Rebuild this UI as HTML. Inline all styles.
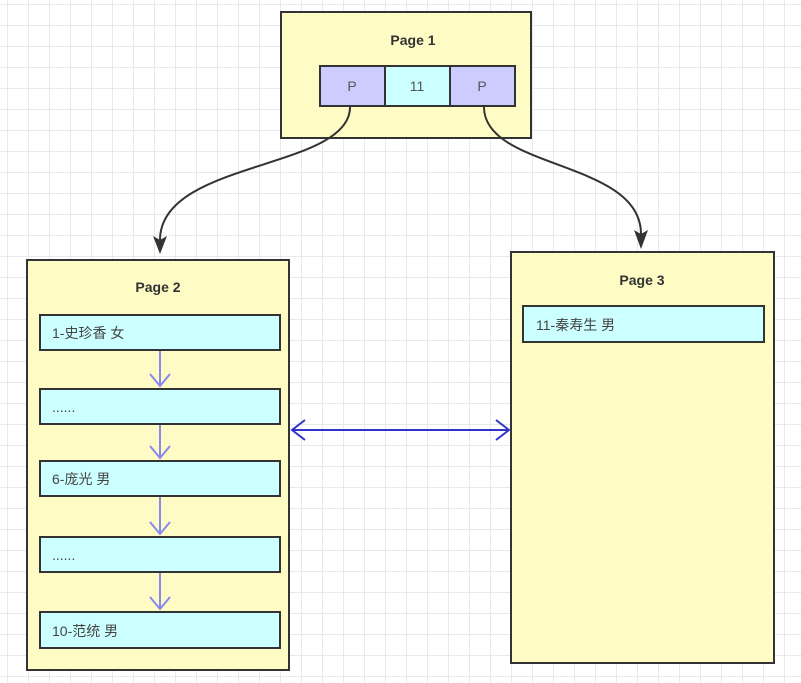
<!DOCTYPE html>
<html><head><meta charset="utf-8"><style>
html,body{margin:0;padding:0;background:#fff}
svg{display:block}
text{font-family:"Liberation Sans","Noto Sans CJK SC",sans-serif}
</style></head><body>
<svg width="801" height="683" viewBox="0 0 801 683" xmlns="http://www.w3.org/2000/svg">
<defs>
<pattern id="g" x="7" y="4" width="21" height="21" patternUnits="userSpaceOnUse">
<path d="M0 0H21M0 0V21" stroke="#e2e2e2" stroke-width="1.5" fill="none"/>
</pattern>
</defs>
<rect width="801" height="683" fill="url(#g)"/>

<!-- Page 1 -->
<rect x="281" y="12" width="250" height="126" fill="#fefcc4" stroke="#333" stroke-width="2"/>
<text x="413" y="45" font-size="14" font-weight="bold" fill="#333" text-anchor="middle">Page 1</text>
<rect x="320" y="66" width="65" height="40" fill="#ccccff" stroke="#333" stroke-width="2"/>
<rect x="385" y="66" width="65" height="40" fill="#ccffff" stroke="#333" stroke-width="2"/>
<rect x="450" y="66" width="65" height="40" fill="#ccccff" stroke="#333" stroke-width="2"/>
<text x="352" y="91" font-size="14" fill="#555" text-anchor="middle">P</text>
<text x="417" y="91" font-size="14" fill="#555" text-anchor="middle">11</text>
<text x="482" y="91" font-size="14" fill="#555" text-anchor="middle">P</text>

<!-- curves -->
<path d="M350 107 C350 170 160 160 160 240" stroke="#333" stroke-width="2" fill="none"/>
<path d="M153 236 L160 254 L167 236 L160 240 Z" fill="#333"/>
<path d="M484 107 C484 170 641 160 641 234" stroke="#333" stroke-width="2" fill="none"/>
<path d="M634 230 L641 249 L648 230 L641 234 Z" fill="#333"/>

<!-- Page 2 -->
<rect x="27" y="260" width="262" height="410" fill="#fefcc4" stroke="#333" stroke-width="2"/>
<text x="158" y="292" font-size="14" font-weight="bold" fill="#333" text-anchor="middle">Page 2</text>
<g stroke="#333" stroke-width="2" fill="#ccffff">
<rect x="40" y="315" width="240" height="35"/>
<rect x="40" y="389" width="240" height="35"/>
<rect x="40" y="461" width="240" height="35"/>
<rect x="40" y="537" width="240" height="35"/>
<rect x="40" y="612" width="240" height="36"/>
</g>
<g font-size="14" fill="#444">
<text x="52" y="338">1-史珍香 女</text>
<text x="52" y="412">......</text>
<text x="52" y="484">6-庞光 男</text>
<text x="52" y="560">......</text>
<text x="52" y="636">10-范统 男</text>
</g>
<g stroke="#8888ee" stroke-width="2" fill="none">
<path d="M160 351V386M150 374L160 386L170 374"/>
<path d="M160 425V458M150 446L160 458L170 446"/>
<path d="M160 497V534M150 522L160 534L170 522"/>
<path d="M160 573V609M150 597L160 609L170 597"/>
</g>

<!-- Page 3 -->
<rect x="511" y="252" width="263" height="411" fill="#fefcc4" stroke="#333" stroke-width="2"/>
<text x="642" y="285" font-size="14" font-weight="bold" fill="#333" text-anchor="middle">Page 3</text>
<rect x="523" y="306" width="241" height="36" fill="#ccffff" stroke="#333" stroke-width="2"/>
<text x="536" y="330" font-size="14" fill="#444">11-秦寿生 男</text>

<!-- double arrow -->
<g stroke="#3333cc" stroke-width="2" fill="none">
<path d="M292 430H509"/>
<path d="M305 420L292 430L305 440"/>
<path d="M496 420L509 430L496 440"/>
</g>
</svg>
</body></html>
